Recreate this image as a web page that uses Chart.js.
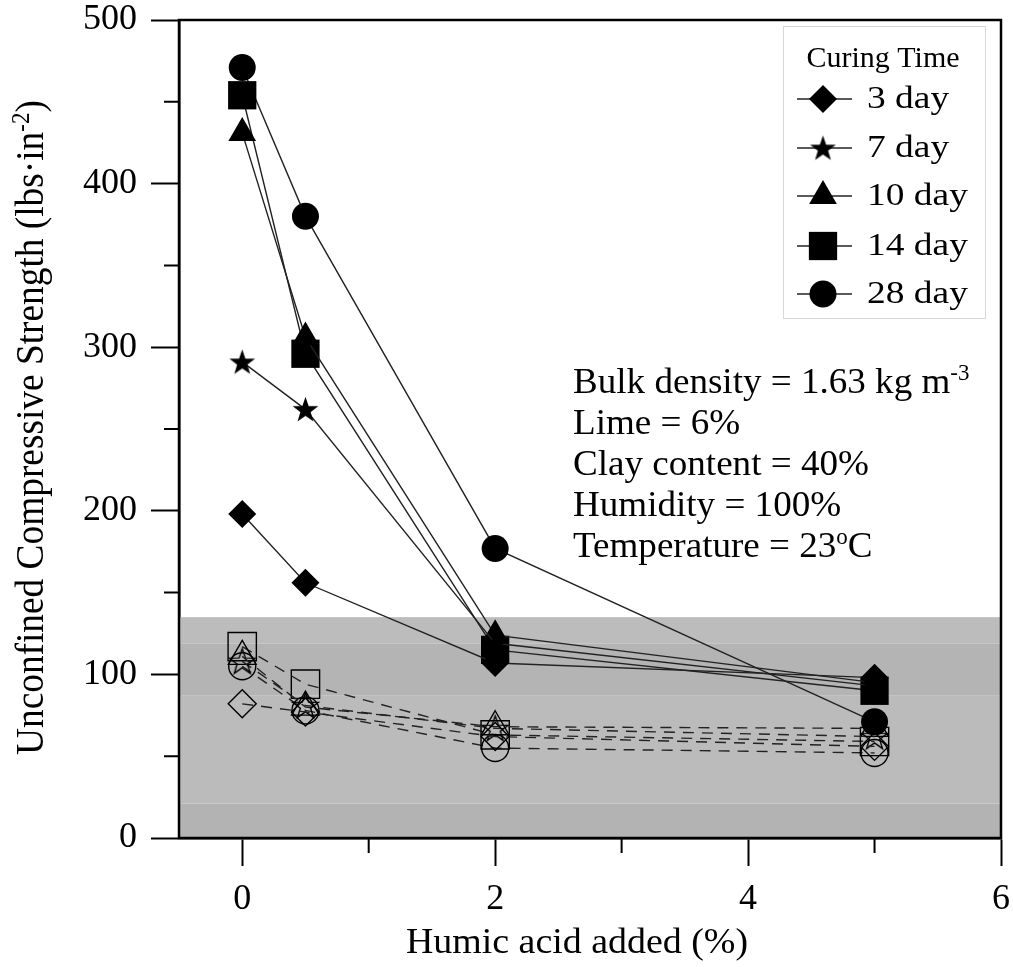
<!DOCTYPE html>
<html><head><meta charset="utf-8">
<script src="https://cdn.jsdelivr.net/npm/chart.js@4.4.0/dist/chart.umd.min.js"></script>
<style>html,body{margin:0;padding:0;background:#fff;}canvas{display:block;}</style>
</head><body>
<canvas id="c" width="1013" height="967"></canvas>
<script>
// ---------------- DATA ----------------
const humicAcid = [0, 0.5, 2, 5];
const curingLabels = ['3 day', '7 day', '10 day', '14 day', '28 day'];
// filled markers, solid lines
const day3  = [198, 156, 107, 98];
const day7  = [291, 262, 119, 93];
const day10 = [431, 306, 124, 95];
const day14 = [454, 296, 115, 90];
const day28 = [471, 380, 177, 71];
// open markers, dashed lines
const open3  = [82, 77, 62, 56];
const open7  = [108, 81, 67, 62];
const open10 = [111, 80, 68, 67];
const open14 = [117, 94, 63, 59];
const open28 = [105, 78, 55, 52];
// axes
const xMajorTicks = [0, 2, 4, 6];
const xMinorTicks = [1, 3, 5];
const yMajorTicks = [0, 100, 200, 300, 400, 500];
const yMinorTicks = [50, 150, 250, 350, 450];
const xTitle = 'Humic acid added (%)';
const yTitleParts = [['Unconfined Compressive Strength (lbs\u00B7in', false], ['-2', true], [')', false]];
const legendTitle = 'Curing Time';
// shaded band (value edges)
const bandEdges = [0, 21, 87, 119, 135];
const bandColors = ['#b3b3b3', '#bbbbbb', '#b4b4b4', '#bcbcbc'];
// annotation
const infoLines = [
  [['Bulk density = 1.63 kg m', false], ['-3', true]],
  [['Lime = 6%', false]],
  [['Clay content = 40%', false]],
  [['Humidity = 100%', false]],
  [['Temperature = 23', false], ['o', true], ['C', false]]
];

// ---------------- STYLE ----------------
const SERIF = '"Liberation Serif", "Times New Roman", serif';
function makeStar(R, filled) {
  const r = R * 0.4;
  const size = Math.ceil(2 * R + 4);
  const cv = document.createElement('canvas');
  cv.width = cv.height = size;
  const g = cv.getContext('2d');
  g.translate(size / 2, size / 2 + 1);
  g.beginPath();
  for (let i = 0; i < 10; i++) {
    const rad = i % 2 ? r : R;
    const a = -Math.PI / 2 + i * Math.PI / 5;
    g.lineTo(rad * Math.cos(a), rad * Math.sin(a));
  }
  g.closePath();
  if (filled) { g.fillStyle = '#000'; g.fill(); }
  else { g.strokeStyle = '#000'; g.lineWidth = 1.4; g.stroke(); }
  return cv;
}
const starFilled = makeStar(13.5, true);
const starOpen = makeStar(13.5, false);
const filledStyles = ['rectRot', starFilled, 'triangle', 'rect', 'circle'];
const openStyles = ['rectRot', starOpen, 'triangle', 'rect', 'circle'];
const radii = [14, 13.5, 16, 20, 13.5];

const filledSeries = [day3, day7, day10, day14, day28];
const openSeries = [open3, open7, open10, open14, open28];
const toXY = arr => arr.map((v, i) => ({ x: humicAcid[i], y: v }));

const datasets = [];
filledSeries.forEach((s, i) => datasets.push({
  label: curingLabels[i], data: toXY(s), order: 0,
  borderColor: '#222', borderWidth: 1.4, tension: 0, fill: false,
  pointStyle: filledStyles[i], pointRadius: radii[i],
  pointBackgroundColor: '#000', pointBorderColor: '#000', pointBorderWidth: 0
}));
openSeries.forEach((s, i) => datasets.push({
  label: curingLabels[i] + ' (open)', data: toXY(s), order: 1,
  borderColor: '#222', borderWidth: 1.4, borderDash: [11, 8], tension: 0, fill: false,
  pointStyle: openStyles[i], pointRadius: radii[i],
  pointBackgroundColor: 'rgba(0,0,0,0)', pointBorderColor: '#000', pointBorderWidth: 1.4
}));

function drawRich(ctx, parts, x, y, size, sx) {
  let cx = 0;
  ctx.save();
  ctx.translate(x, y);
  ctx.scale(sx, 1);
  parts.forEach(([t, sup]) => {
    const fs = sup ? size * 0.62 : size;
    ctx.font = fs + 'px ' + SERIF;
    ctx.fillText(t, cx, sup ? -size * 0.36 : 0);
    cx += ctx.measureText(t).width;
  });
  ctx.restore();
  return cx * sx;
}
function richWidth(ctx, parts, size) {
  let w = 0;
  parts.forEach(([t, sup]) => {
    ctx.font = (sup ? size * 0.62 : size) + 'px ' + SERIF;
    w += ctx.measureText(t).width;
  });
  return w;
}

const decorPlugin = {
  id: 'decor',
  beforeDatasetsDraw(chart) {
    const { ctx, chartArea: a, scales: { y } } = chart;
    ctx.save();
    for (let i = 0; i < bandColors.length; i++) {
      const y0 = y.getPixelForValue(bandEdges[i]);
      const y1 = y.getPixelForValue(bandEdges[i + 1]);
      ctx.fillStyle = bandColors[i];
      ctx.fillRect(a.left, y1, a.right - a.left, y0 - y1);
    }
    ctx.restore();
  },
  afterDraw(chart) {
    const { ctx, chartArea: a, scales: { x, y } } = chart;
    ctx.save();
    ctx.strokeStyle = '#000';
    ctx.lineWidth = 2.5;
    ctx.strokeRect(a.left, a.top, a.right - a.left, a.bottom - a.top);
    ctx.lineWidth = 2;
    ctx.beginPath();
    xMinorTicks.forEach(v => { const px = x.getPixelForValue(v); ctx.moveTo(px, a.bottom); ctx.lineTo(px, a.bottom + 15); });
    yMinorTicks.forEach(v => { const py = y.getPixelForValue(v); ctx.moveTo(a.left, py); ctx.lineTo(a.left - 15, py); });
    ctx.stroke();

    ctx.fillStyle = '#000';
    ctx.textBaseline = 'alphabetic';
    const xw = richWidth(ctx, [[xTitle, false]], 36);
    drawRich(ctx, [[xTitle, false]], 406, 953, 36, 342 / xw);
    const ySize = 40;
    const yw = richWidth(ctx, yTitleParts, ySize);
    const ysx = 655 / yw;
    ctx.save();
    ctx.translate(43, 427.5);
    ctx.rotate(-Math.PI / 2);
    drawRich(ctx, yTitleParts, -327.5, 0, ySize, ysx);
    ctx.restore();

    const base = [393, 434, 475, 516, 557];
    infoLines.forEach((parts, i) => drawRich(ctx, parts, 573, base[i], 36, 1.03));

    ctx.fillStyle = '#fff';
    ctx.fillRect(783, 26, 202, 292);
    ctx.strokeStyle = '#d8d8d8';
    ctx.lineWidth = 1;
    ctx.strokeRect(783.5, 26.5, 202, 292);
    ctx.fillStyle = '#000';
    ctx.font = '30px ' + SERIF;
    ctx.textAlign = 'center';
    ctx.fillText(legendTitle, 883, 67);
    ctx.textAlign = 'left';
    const lb = [108, 157, 205, 255, 303];
    curingLabels.forEach((lab, i) => {
      const cy = lb[i] - 9;
      ctx.strokeStyle = '#222';
      ctx.lineWidth = 1.4;
      ctx.setLineDash([]);
      ctx.beginPath(); ctx.moveTo(797, cy); ctx.lineTo(852, cy); ctx.stroke();
      ctx.fillStyle = '#000';
      ctx.strokeStyle = '#000';
      ctx.lineWidth = 0;
      Chart.helpers.drawPoint(ctx, { pointStyle: filledStyles[i], radius: radii[i], rotation: 0, borderWidth: 0 }, 823, cy);
      ctx.fillStyle = '#000';
      drawRich(ctx, [[lab, false]], 867, lb[i], 32, 1.17);
    });
    ctx.restore();
  }
};

new Chart(document.getElementById('c'), {
  type: 'line',
  data: { datasets },
  plugins: [decorPlugin],
  options: {
    responsive: false,
    devicePixelRatio: 1,
    animation: false,
    events: [],
    layout: { autoPadding: false, padding: { top: 20, right: 12, left: 0, bottom: 0 } },
    plugins: { legend: { display: false }, tooltip: { enabled: false } },
    scales: {
      x: {
        type: 'linear', min: -0.5, max: 6,
        afterBuildTicks: s => { s.ticks = xMajorTicks.map(v => ({ value: v })); },
        afterFit: s => { s.height = 129; s.paddingLeft = 0; s.paddingRight = 0; },
        ticks: { font: { family: SERIF, size: 36 }, color: '#000', padding: 12, callback: v => String(v) },
        grid: { drawOnChartArea: false, drawTicks: true, tickLength: 28, tickWidth: 2, tickColor: '#000' },
        border: { display: true, color: '#000', width: 2.5 }
      },
      y: {
        type: 'linear', min: 0, max: 500,
        afterBuildTicks: s => { s.ticks = yMajorTicks.map(v => ({ value: v })); },
        afterFit: s => { s.width = 179; s.paddingTop = 0; s.paddingBottom = 0; },
        ticks: { font: { family: SERIF, size: 36 }, color: '#000', padding: 14, callback: v => String(v) },
        grid: { drawOnChartArea: false, drawTicks: true, tickLength: 28, tickWidth: 2, tickColor: '#000' },
        border: { display: true, color: '#000', width: 2.5 }
      }
    }
  }
});
</script>
</body></html>
